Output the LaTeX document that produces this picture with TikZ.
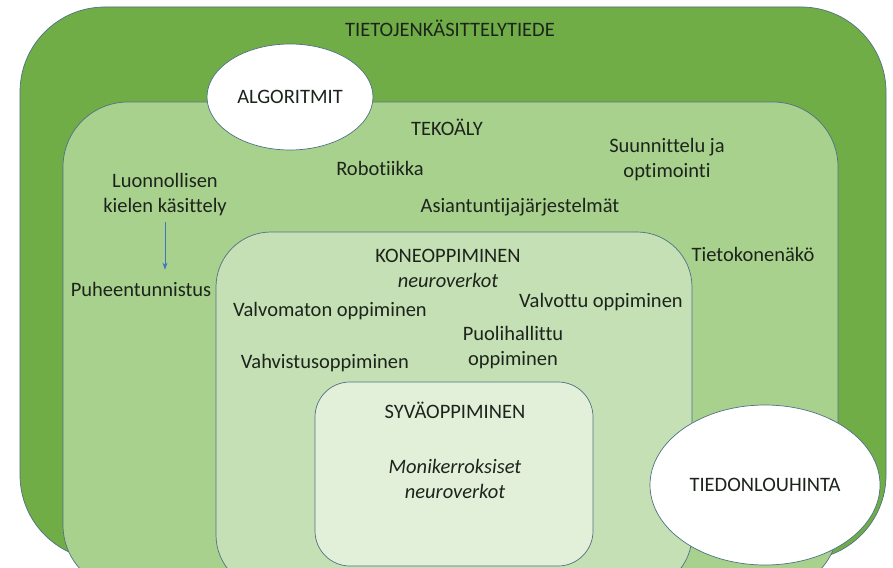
\documentclass[tikz,border=0pt]{standalone}
\usepackage{fontspec}
\setmainfont[RawFeature={-liga}]{Carlito}
\usetikzlibrary{shapes.geometric,arrows.meta}
\definecolor{gdark}{HTML}{70AD47}
\definecolor{gmid}{HTML}{A9D18E}
\definecolor{glight}{HTML}{C5E0B4}
\definecolor{gpale}{HTML}{E2F0D9}
\definecolor{edge}{HTML}{4F7184}
\definecolor{ink}{HTML}{1C241C}
\definecolor{arrowblue}{HTML}{4472C4}
\tikzset{
  area/.style={draw=edge, line width=0.7pt},
  bubble/.style={ellipse, draw=edge, fill=white, line width=0.7pt, inner sep=0pt},
  lbl/.style={text=ink, font=\fontsize{20.5}{25}\selectfont, align=center, inner sep=0pt},
}
\begin{document}
\begin{tikzpicture}[x=1pt, y=-1pt]
\useasboundingbox (0,0) rectangle (893,567);
\fill[white] (0,0) rectangle (893,567);
\begin{scope}
\clip (0,0) rectangle (893,567);
% nested fields, outermost first
\filldraw[area, fill=gdark, rounded corners=85pt] (20,7) rectangle (886,560);
\filldraw[area, fill=gmid, rounded corners=65pt] (63,102) rectangle (838,590);
\filldraw[area, fill=glight, rounded corners=55pt] (216,232) rectangle (692,590);
\filldraw[area, fill=gpale, rounded corners=35pt] (315,382) rectangle (593,566);
\end{scope}

% satellite fields
\node[bubble, minimum width=166pt, minimum height=106pt] (alg) at (290,97) {};
\node[lbl] at (alg.center) {ALGORITMIT};
\node[bubble, minimum width=230pt, minimum height=160pt] (tied) at (765,485) {};
\node[lbl] at (tied.center) {TIEDONLOUHINTA};

% labels
\node[lbl] (tkt) at (450,28) {TIETOJENKÄSITTELYTIEDE};
\node[lbl] (ai) at (447,127) {TEKOÄLY};
\node[lbl] (robo) at (380,168) {Robotiikka};
\node[lbl] (suun) at (667,160) {Suunnittelu ja\\optimointi};
\node[lbl] (luonn) at (165,195) {Luonnollisen\\kielen käsittely};
\node[lbl] (asia) at (520,207) {Asiantuntijajärjestelmät};
\node[lbl] (tieto) at (753,254) {Tietokonenäkö};
\node[lbl] (puhe) at (141,289) {Puheentunnistus};
\node[lbl] (ml) at (448,268) {KONEOPPIMINEN\\\itshape neuroverkot};
\node[lbl] (valvo) at (330,311) {Valvomaton oppiminen};
\node[lbl] (valvt) at (601,302) {Valvottu oppiminen};
\node[lbl] (puol) at (513,348) {Puolihallittu\\oppiminen};
\node[lbl] (vahv) at (325,363) {Vahvistusoppiminen};
\node[lbl] (dl) at (455,410) {SYVÄOPPIMINEN};
\node[lbl, font=\fontsize{20.5}{25}\selectfont\itshape] (moni) at (455,479) {Monikerroksiset\\neuroverkot};

% speech recognition stems from language processing
\draw[arrowblue, line width=0.7pt, -{Stealth[length=7pt,width=5pt]}]
  ([yshift=-6pt]luonn.south) -- ([yshift=12pt]luonn.south |- puhe.north);
\end{tikzpicture}
\end{document}
